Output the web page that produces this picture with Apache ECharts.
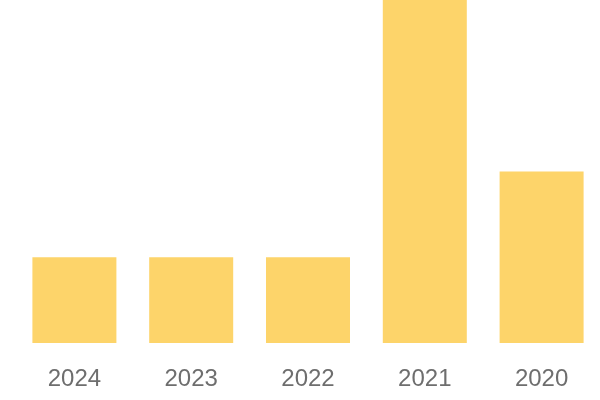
<!DOCTYPE html>
<html><head><meta charset="utf-8">
<script src="https://cdn.jsdelivr.net/npm/echarts@6/dist/echarts.min.js"></script>
<style>html,body{margin:0;padding:0;background:#fff}#c{width:600px;height:400px}</style>
</head><body><div id="c"></div>
<script>
const categories = ['2024', '2023', '2022', '2021', '2020'];
const values = [1, 1, 1, 4, 2];
const chart = echarts.init(document.getElementById('c'), null, {renderer: 'canvas'});
chart.setOption({
  animation: false,
  grid: {left: 16, right: 0, top: 0, bottom: 57, containLabel: false},
  xAxis: {
    type: 'category', data: categories,
    axisLine: {show: false}, axisTick: {show: false},
    axisLabel: {color: '#6e6e6e', fontSize: 24, fontFamily: 'Liberation Sans, Arial, sans-serif', margin: 24}
  },
  yAxis: {type: 'value', min: 0, max: 4, show: false, splitLine: {show: false}},
  series: [{type: 'bar', data: values, barWidth: 84, itemStyle: {color: '#fdd46a'}}]
});
</script></body></html>
